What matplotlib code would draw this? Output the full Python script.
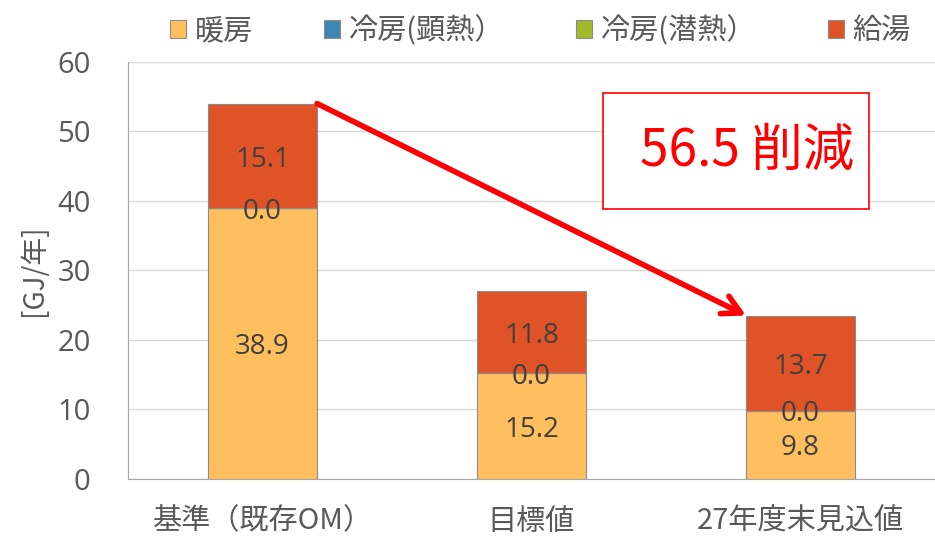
import matplotlib
matplotlib.use("Agg")
import matplotlib.pyplot as plt
from matplotlib.patches import Rectangle
import numpy as np

plt.rcParams['font.family'] = ['Noto Sans CJK JP', 'DejaVu Sans']

categories = ['基準（既存OM）', '目標値', '27年度末見込値']
series_names = ['暖房', '冷房(顕熱）', '冷房(潜熱）', '給湯']
heating = [38.9, 15.2, 9.8]
cooling_sensible = [0.0, 0.0, 0.0]
cooling_latent = [0.0, 0.0, 0.0]
hot_water = [15.1, 11.8, 13.7]
reduction_label = '56.5 削減'

colors = ['#FFBF5F', '#3C86B4', '#A2B92C', '#E05327']
text_gray = '#404040'
axis_gray = '#595959'

fig = plt.figure(figsize=(9.35, 5.38), dpi=100)
ax = fig.add_axes([0.137, 0.110, 0.863, 0.775])

x = np.arange(len(categories))
width = 0.405
bottom = np.zeros(len(categories))
series = [heating, cooling_sensible, cooling_latent, hot_water]
bars = []
for vals, name, col in zip(series, series_names, colors):
    vals = np.array(vals)
    b = ax.bar(x, vals, width, bottom=bottom, color=col, label=name,
               edgecolor='#8C8C8C', linewidth=0.8, zorder=3)
    bars.append((b, vals, bottom.copy()))
    bottom = bottom + vals

# value labels: heating, sensible cooling and hot water (latent is omitted)
for idx in (0, 1, 3):
    b, vals, base = bars[idx]
    for xi, v, b0 in zip(x, vals, base):
        ax.text(xi, b0 + v / 2, f'{v:.1f}', ha='center', va='center_baseline',
                fontsize=20, color=text_gray, family='Open Sans', zorder=5)

ax.set_xlim(-0.5, 2.5)
ax.set_ylim(0, 60)
ax.set_yticks(np.arange(0, 61, 10))
ax.yaxis.grid(True, color='#D9D9D9', linewidth=1, zorder=0)
ax.set_axisbelow(True)
ax.set_xticks(x)
ax.set_xticklabels(categories, fontsize=21, color=axis_gray)
for lbl in ax.get_yticklabels():
    lbl.set_fontsize(21)
    lbl.set_color(axis_gray)
    lbl.set_family('Open Sans')
ax.tick_params(axis='both', length=0)
ax.tick_params(axis='y', pad=27)
ax.tick_params(axis='x', pad=20)
for side in ('top', 'right'):
    ax.spines[side].set_visible(False)
ax.spines['left'].set_color('#A6A6A6')
ax.spines['bottom'].set_color('#A6A6A6')
ax.set_ylabel('[GJ/年]', fontsize=20, color=axis_gray, labelpad=6)

# arrow from the top of the baseline bar down to the forecast bar
total = np.array(heating) + np.array(cooling_sensible) + np.array(cooling_latent) + np.array(hot_water)
ax.annotate('', xy=(x[2] - width / 2, total[2]), xytext=(x[0] + width / 2, total[0]),
            arrowprops=dict(arrowstyle='->,head_length=1.3,head_width=0.7',
                            color='#FF0000', lw=4, shrinkA=0, shrinkB=0),
            zorder=6)

ax.add_patch(Rectangle((0.5886, 0.6475), 0.3296, 0.278, transform=ax.transAxes,
                       facecolor='white', edgecolor='#FF0000', linewidth=1.2, zorder=6))
ax.text(0.767, 0.6475 + 0.278 / 2, reduction_label, transform=ax.transAxes,
        ha='center', va='center', fontsize=37, color='#FF0000', zorder=7)

fig.legend(loc='upper center', bbox_to_anchor=(0.578, 1.02), ncol=4, frameon=False,
           fontsize=21, handlelength=0.55, handleheight=0.55, handletextpad=0.3,
           columnspacing=2.45, labelcolor=axis_gray)

fig.savefig('out.png', dpi=100)
